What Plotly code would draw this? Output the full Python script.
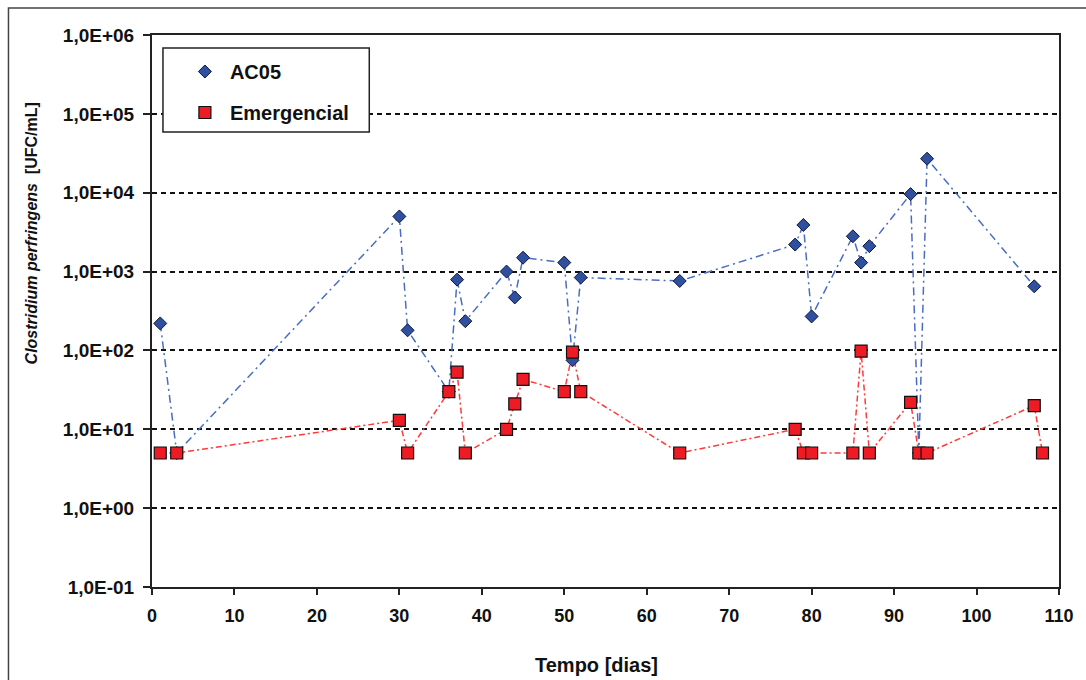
import plotly.graph_objects as go

# ---- data ----
days_ac05 = [1, 3, 30, 31, 36, 37, 38, 43, 44, 45, 50, 51, 52, 64, 78, 79, 80, 85, 86, 87, 92, 93, 94, 107]
ac05 = [220, 5, 5000, 180, 30, 790, 235, 1000, 470, 1500, 1300, 75, 840, 760, 2200, 3900, 270, 2800, 1300, 2100, 9600, 5, 27000, 650]

days_emerg = [1, 3, 30, 31, 36, 37, 38, 43, 44, 45, 50, 51, 52, 64, 78, 79, 80, 85, 86, 87, 92, 93, 94, 107, 108]
emerg = [5, 5, 13, 5, 30, 53, 5, 10, 21, 43, 30, 95, 30, 5, 10, 5, 5, 5, 98, 5, 22, 5, 5, 20, 5]

y_tickvals = [0.1, 1, 10, 100, 1000, 10000, 100000, 1000000]
y_ticktext = ["1,0E-01", "1,0E+00", "1,0E+01", "1,0E+02", "1,0E+03", "1,0E+04", "1,0E+05", "1,0E+06"]
x_tickvals = [0, 10, 20, 30, 40, 50, 60, 70, 80, 90, 100, 110]

FONT = "Liberation Sans, Arial, sans-serif"
BLUE_LINE = "#4a6cc4"
BLUE_FILL = "#2f4f9f"
RED_LINE = "#ff3b3b"
RED_FILL = "#ee1b24"

fig = go.Figure()

# connecting lines (not in legend)
fig.add_trace(go.Scatter(x=days_ac05, y=ac05, mode="lines", showlegend=False,
                         line=dict(color=BLUE_LINE, width=1.5, dash="8px,4px,2px,4px"), hoverinfo="skip"))
fig.add_trace(go.Scatter(x=days_emerg, y=emerg, mode="lines", showlegend=False,
                         line=dict(color=RED_LINE, width=1.5, dash="6px,3px,2px,3px"), hoverinfo="skip"))
# markers (legend)
fig.add_trace(go.Scatter(x=days_ac05, y=ac05, mode="markers", name="AC05", legendgroup="a",
                         marker=dict(symbol="diamond", size=10, color=BLUE_FILL,
                                     line=dict(color="#10163a", width=1))))
fig.add_trace(go.Scatter(x=days_emerg, y=emerg, mode="markers", name="Emergencial", legendgroup="b",
                         marker=dict(symbol="square", size=12, color=RED_FILL,
                                     line=dict(color="#111111", width=1.2))))

W, H = 1086, 680
L, R, T, B = 152, 24, 35, 93
pw, ph = W - L - R, H - T - B

def px_x(p):
    return (p - L) / pw

def px_y(p):
    return (H - B - p) / ph

fig.update_layout(
    width=W, height=H,
    margin=dict(l=L, r=R, t=T, b=B),
    paper_bgcolor="white", plot_bgcolor="white",
    font=dict(family=FONT, color="#111111"),
    showlegend=True,
    legend=dict(x=px_x(180), y=px_y(52), xanchor="left", yanchor="top",
                bgcolor="rgba(0,0,0,0)", borderwidth=0,
                font=dict(size=20, family=FONT, weight="bold", color="#111111"),
                tracegroupgap=12, itemwidth=40),
    xaxis=dict(range=[0, 110], tickvals=x_tickvals, ticks="outside", ticklen=6, tickwidth=1.5,
               tickcolor="#222", showline=True, linecolor="#222", linewidth=2, mirror=True,
               showgrid=False, zeroline=False, ticklabelstandoff=5,
               tickfont=dict(size=18, family=FONT, weight="bold", color="#111")),
    yaxis=dict(type="log", range=[-1, 6], tickvals=y_tickvals, ticktext=y_ticktext,
               ticks="outside", ticklen=7, tickwidth=1.5, tickcolor="#222",
               showline=True, linecolor="#222", linewidth=2, mirror=True,
               showgrid=True, gridcolor="#111", gridwidth=1.5, griddash="5px,4px",
               zeroline=False, ticklabelstandoff=5,
               tickfont=dict(size=19, family=FONT, weight="bold", color="#111")),
    annotations=[
        dict(text="<b>Tempo [dias]</b>", x=px_x(598), y=px_y(665), xref="paper", yref="paper",
             showarrow=False, xanchor="center", yanchor="middle",
             font=dict(size=20, family=FONT, color="#111")),
        dict(text="<b><i>Clostridium perfringens</i>  [UFC/mL]</b>", x=px_x(31), y=px_y(233),
             xref="paper", yref="paper", showarrow=False, textangle=-90,
             xanchor="center", yanchor="middle",
             font=dict(size=16, family=FONT, color="#111")),
    ],
    shapes=[
        # legend box (drawn above the grid so the dashed line does not cross it)
        dict(type="rect", xref="paper", yref="paper", x0=px_x(163), x1=px_x(370),
             y0=px_y(132), y1=px_y(48), line=dict(color="#222", width=1.5), fillcolor="white",
             layer="above"),
        # outer chart border
        dict(type="rect", xref="paper", yref="paper", x0=px_x(8), x1=px_x(1110),
             y0=px_y(700), y1=px_y(8), line=dict(color="#444", width=1.5)),
    ],
)

fig.write_html("out.html")
